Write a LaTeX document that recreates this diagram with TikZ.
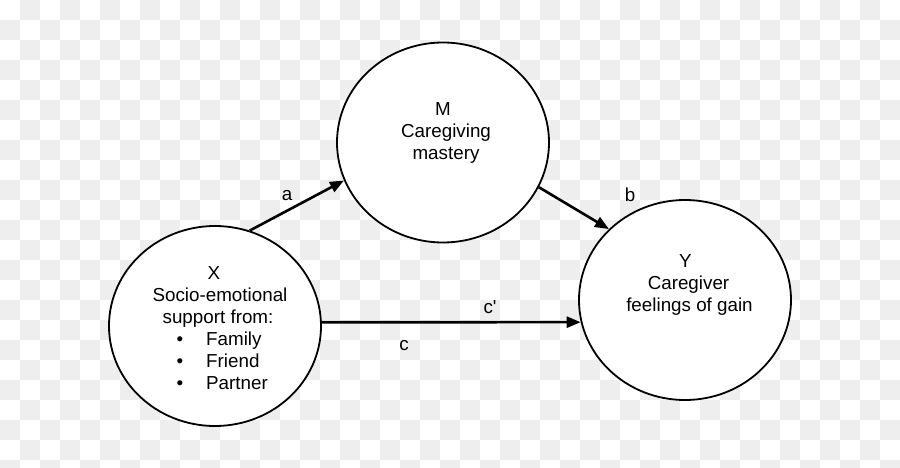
\documentclass[tikz,border=0pt]{standalone}
\usepackage{fontspec}
\setmainfont{Liberation Sans}
\newfontfamily\plainsans[Ligatures=ResetAll]{Liberation Sans}
\usetikzlibrary{shapes.geometric,arrows.meta}
\definecolor{checker}{RGB}{238,238,238}
\begin{document}
\begin{tikzpicture}[x=1pt,y=-1pt,
  var/.style={ellipse,draw=black,line width=1.8pt,fill=white,minimum width=212pt,minimum height=200pt,inner sep=0pt},
  txt/.style={anchor=base,inner sep=0pt,font=\fontsize{18.8}{22}\selectfont},
  conn/.style={line width=2.6pt,-{Triangle[length=14pt,width=11pt]}}]
\useasboundingbox (0,0) rectangle (900,468);
\begin{scope}
\clip (0,0) rectangle (900,468);
\foreach \j in {0,...,23}{
  \pgfmathtruncatemacro\s{mod(\j+1,2)}
  \pgfmathtruncatemacro\t{\s+2}
  \foreach \i in {\s,\t,...,45}{
    \fill[checker] (20*\i,20*\j) rectangle ++(20,20);
  }
}
\end{scope}
% variables
\node[var] (X) at (215,326) {};
\node[var] (M) at (443,142.5) {};
\node[var] (Y) at (685,300) {};
% X text
\node[txt] (Xa) at (214,279) {X};
\node[txt] (Xb) at (220,301) {Socio-emotional};
\node[txt] (Xc) at (218,323) {support from:};
\node[txt] (B1) at (180,345) {•};
\node[txt] (B2) at (180,367) {•};
\node[txt] (B3) at (180,389) {•};
\node[txt,anchor=base west] (I1) at (206,345) {Family};
\node[txt,anchor=base west] (I2) at (206,367) {Friend};
\node[txt,anchor=base west] (I3) at (206,389) {Partner};
% M text
\node[txt] (Ma) at (443,116) {M};
\node[txt] (Mb) at (446,138) {Caregiving};
\node[txt] (Mc) at (446,160) {mastery};
% Y text
\node[txt] (Ya) at (685.5,267) {Y};
\node[txt] (Yb) at (688.5,289) {Caregiver};
\node[txt] (Yc) at (689.5,311) {feelings of gain};
% paths
\draw[conn] (X.70) -- (M.201);
\draw[conn] (M.-25) -- (Y.137);
\draw[conn] (X.2) -- (Y.192);
% labels
\node[txt] (la) at (287,200.7) {a};
\node[txt] (lb) at (630,201) {b};
\node[txt] (lcp) at (490,313) {\plainsans c'};
\node[txt] (lc) at (404,350) {c};
\end{tikzpicture}
\end{document}
